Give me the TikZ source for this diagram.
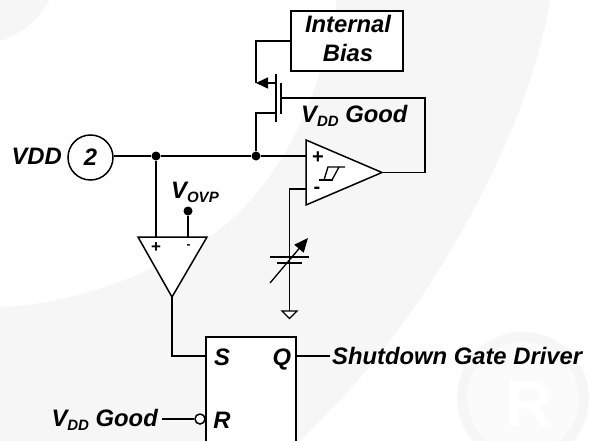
\documentclass[tikz,border=0pt]{standalone}
\usepackage{fontspec}
\setmainfont{Liberation Sans}
\usetikzlibrary{arrows.meta}
\definecolor{wm}{HTML}{F6F6F6}
\definecolor{wmin}{HTML}{FBFBFB}
\tikzset{
  wire/.style={line width=1.5pt,black},
  lbl/.style={inner sep=0pt,font=\fontsize{23.8}{24}\selectfont\bfseries\itshape},
  part/.style={line width=1.5pt,draw=black,fill=white},
  junction/.style={circle,fill=black,inner sep=0pt,minimum size=9pt},
  sym/.style={inner sep=0pt,font=\fontsize{20}{20}\selectfont\bfseries}
}
\newcommand{\vsub}[2]{#1\raisebox{-4pt}{\fontsize{15}{15}\selectfont #2}}
\begin{document}
\begin{tikzpicture}[x=1pt,y=-1pt]
\useasboundingbox (0,0) rectangle (591,441);
\fill[white] (0,0) rectangle (591,441);
% watermark
\fill[wm] (0,0) -- (49,0) .. controls (40,18) and (22,34) .. (0,41) -- cycle;
\fill[wm] (337,0) .. controls (320,100) and (280,190) .. (205,240) .. controls (150,275) and (70,305) .. (0,307)
  -- (0,441) -- (300,441) -- (330,410) .. controls (430,310) and (530,130) .. (550,0) -- cycle;
\fill[wm] (523,398) circle[radius=66pt];
\fill[wmin] (523,398) circle[radius=56pt];
\node[inner sep=0pt,anchor=base,white,font=\fontsize{66}{66}\selectfont\bfseries] at (529,426) {R};
% Bias
\node[part,minimum width=112pt,minimum height=60pt,inner sep=0pt] (bias) at (347,41) {};
\node[lbl,anchor=base] at (348,33) {Internal};
\node[lbl,anchor=base] at (348,62) {Bias};
% comparator
\coordinate (cmpTip) at (382,172.5);
\draw[part] (306,140) -- (cmpTip) -- (306,205) -- cycle;
% ovp
\coordinate (ovpTip) at (172,297);
\draw[part] (138,237) -- (207,237) -- (ovpTip) -- cycle;
% flipflop
\draw[part] (206,442) -- (206,337) -- (296,337) -- (296,442);
\coordinate (ffS) at (206,356);
\coordinate (ffQ) at (296,356);
\node[circle,part,minimum size=10pt,inner sep=0pt] (bub) at (200,419) {};
% pin
\node[circle,part,minimum size=45pt,inner sep=0pt] (pin) at (90.5,157.5) {};
\node[lbl,anchor=base] at (90.5,165) {2};
\node[lbl,anchor=base east] at (62,164) {VDD};
% junctions
\node[junction] (j1) at (156,156) {};
\node[junction] (j2) at (256,156) {};
\node[junction] (jv) at (188,211) {};
\draw[wire] (pin.east |- j1) -- (j1) -- (j2) -- (306,156);
\draw[wire] (j1) -- (156,237);
\draw[wire] (jv) -- (188,237);
\node[sym,font=\fontsize{17}{17}\selectfont\bfseries] at (156,248) {+};
\node[sym,font=\fontsize{12}{12}\selectfont\bfseries] at (188.5,247) {-};
\node[lbl,anchor=base west] at (171,198) {\vsub{V}{OVP}};
\draw[wire] (ovpTip) -- (172,356) -- (ffS);
% MOS
\draw[wire] (bias.west) -- (256,41) -- (256,83);
\draw[wire,-{Triangle[length=12pt,width=11pt]}] (276,83) -- (256,83);
\draw[line width=1.6pt] (276,74) -- (276,122);
\draw[line width=2.6pt] (281,83) -- (281,114);
\draw[wire] (j2) -- (256,113) -- (276,113);
\draw[wire] (281,98) -- (425,98) -- (425,172.5) -- (cmpTip);
\node[lbl,anchor=base west] at (301,123) {\vsub{V}{DD} Good};
% hysteresis
\draw[line width=1.3pt] (319,180) -- (333,180);
\draw[line width=1.3pt] (324,180) -- (328,167) -- (345,167);
\draw[line width=1.3pt] (332,180) -- (339,167);
\node[sym] at (318,158) {+};
\node[sym] at (317,190) {-};
% minus input and cap
\coordinate (gnd) at (289.3,311);
\draw[wire] (306,189) -- (289.3,189) -- (gnd);
\draw[line width=1.4pt] (270,257) -- (309,257);
\draw[line width=2.8pt] (277,263) -- (302,263);
\draw[line width=1.3pt,-{Triangle[length=14pt,width=12pt]}] (270,283) -- (308,238);
\draw[line width=1.3pt,fill=white] (282,311) -- (297,311) -- (289.5,318.5) -- cycle;
% ff
\node[lbl,anchor=base] at (222,365) {S};
\node[lbl,anchor=base] at (282,365) {Q};
\node[lbl,anchor=base] at (222,428) {R};
\draw[wire] (ffQ) -- (330,356);
\node[lbl,anchor=base west] (sd) at (332,364) {Shutdown Gate Driver};
\node[lbl,anchor=base east] (vg) at (158,426) {\vsub{V}{DD} Good};
\draw[wire] (162,419) -- (bub);
\end{tikzpicture}
\end{document}
